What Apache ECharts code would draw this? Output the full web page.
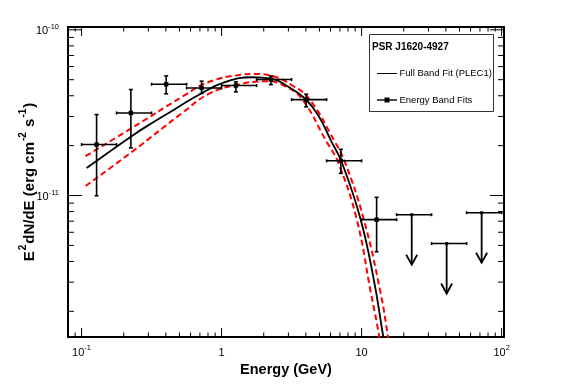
<!DOCTYPE html>
<html>
<head>
<meta charset="utf-8">
<script src="https://cdn.jsdelivr.net/npm/echarts@6/dist/echarts.min.js"></script>
<style>html,body{margin:0;padding:0;background:#fff;}#c{width:567px;height:384px;}</style>
</head>
<body>
<div id="c"></div>
<script>
// ---- Energy band fits (GeV, erg cm^-2 s^-1) ----
const energy   = [0.128, 0.225, 0.402, 0.72, 1.265, 2.25, 4.02, 7.11, 12.8];
const energyLo = [0.1, 0.1778, 0.3162, 0.5623, 1, 1.778, 3.162, 5.623, 10];
const energyHi = [0.1778, 0.3162, 0.5623, 1, 1.778, 3.162, 5.623, 10, 17.78];
const flux     = [2.03e-11, 3.15e-11, 4.69e-11, 4.46e-11, 4.61e-11, 5.01e-11, 3.79e-11, 1.62e-11, 7.15e-12];
const fluxLo   = [9.97e-12, 1.94e-11, 4.11e-11, 4.13e-11, 4.22e-11, 4.67e-11, 3.43e-11, 1.36e-11, 4.58e-12];
const fluxHi   = [3.08e-11, 4.36e-11, 5.27e-11, 4.90e-11, 4.85e-11, 5.27e-11, 4.09e-11, 1.90e-11, 9.75e-12];

// ---- Upper limits ----
const ulEnergy = [22.8, 40.5, 72];
const ulLo     = [17.78, 31.62, 56.23];
const ulHi     = [31.62, 56.23, 100];
const ulFlux   = [7.66e-12, 5.13e-12, 7.87e-12];

// ---- Full band fit (PLEC1) ----
const fitE = [0.1086, 0.2276, 0.334, 0.4638, 0.7197, 1.056, 1.638, 2.276, 2.991, 3.936, 4.898, 6.107, 7.197, 9.725, 12.11, 14.27, 15.41];
const fitF = [1.464e-11, 2.282e-11, 2.811e-11, 3.32e-11, 4.145e-11, 4.829e-11, 5.174e-11, 5.068e-11, 4.535e-11, 3.851e-11, 3.055e-11, 2.109e-11, 1.598e-11, 7.45e-12, 3.24e-12, 1.41e-12, 9.53e-13];
// upper / lower envelopes (red dashed)
const upE = [0.1068, 0.2276, 0.5318, 0.8023, 1.389, 1.729, 2.403, 3.178, 4.203, 6.446, 7.586, 10.30, 13.67, 15.41, 16.46];
const upF = [1.73e-11, 2.55e-11, 3.976e-11, 4.829e-11, 5.356e-11, 5.416e-11, 5.209e-11, 4.631e-11, 3.851e-11, 2.109e-11, 1.598e-11, 7.32e-12, 2.586e-12, 1.41e-12, 9.53e-13];
const loE = [0.1068, 0.2276, 0.5318, 0.8023, 1.245, 2.152, 2.832, 3.728, 5.623, 6.771, 9.18, 11.65, 13.36, 14.20];
const loF = [1.141e-11, 1.828e-11, 3.184e-11, 4.088e-11, 4.631e-11, 4.897e-11, 4.567e-11, 3.851e-11, 2.109e-11, 1.598e-11, 7.32e-12, 2.586e-12, 1.41e-12, 9.53e-13];

// ---- Axis ticks ----
const xMajorTicks = [0.1, 1, 10, 100];
const xMinorTicks = [0.09, 0.2, 0.3, 0.4, 0.5, 0.6, 0.7, 0.8, 0.9, 2, 3, 4, 5, 6, 7, 8, 9, 20, 30, 40, 50, 60, 70, 80, 90];
const yMajorTicks = [1e-11, 1e-10];
const yMinorTicks = [2e-12, 3e-12, 4e-12, 5e-12, 6e-12, 7e-12, 8e-12, 9e-12, 2e-11, 3e-11, 4e-11, 5e-11, 6e-11, 7e-11, 8e-11, 9e-11];

const X_MIN = 0.08, X_MAX = 104, Y_MIN = 1.4e-12, Y_MAX = 1.04e-10;
const FONT = '"Liberation Sans", Arial, Helvetica, sans-serif';

const zip = (a, b) => a.map((v, i) => [v, b[i]]);

function powLabel(v) {
  const l = Math.log10(v);
  const r = Math.round(l);
  if (Math.abs(l - r) > 0.01) return '';
  if (r === 0) return '{b|1}';
  if (r === 1) return '{b|10}';
  return '{b|10}{s|' + r + '}';
}
const labelRich = {
  b: { fontFamily: FONT, fontSize: 11, color: '#000', lineHeight: 14, verticalAlign: 'bottom' },
  s: { fontFamily: FONT, fontSize: 7.5, color: '#000', lineHeight: 14, verticalAlign: 'top', padding: [0, 0, 5, 0] }
};

const chart = echarts.init(document.getElementById('c'), null, { renderer: 'canvas' });

const errData = energy.map((e, i) => [e, flux[i], energyLo[i], energyHi[i], fluxLo[i], fluxHi[i]]);
const ulData = ulEnergy.map((e, i) => [e, ulFlux[i], ulLo[i], ulHi[i]]);
const xTickData = xMajorTicks.map(v => [v, 1e-11, 1]).concat(xMinorTicks.map(v => [v, 1e-11, 0]));
const yTickData = yMajorTicks.map(v => [1, v, 1]).concat(yMinorTicks.map(v => [1, v, 0]));

const BAR = { stroke: '#000', lineWidth: 1.6 };

chart.setOption({
  animation: false,
  backgroundColor: '#fff',
  grid: { left: 68, right: 63, top: 27, bottom: 47, show: true, borderColor: '#000', borderWidth: 2, backgroundColor: 'transparent' },
  xAxis: {
    type: 'log', logBase: 10, min: X_MIN, max: X_MAX,
    axisLine: { show: false }, axisTick: { show: false }, splitLine: { show: false },
    axisLabel: { margin: 7, formatter: powLabel, rich: labelRich, showMinLabel: false, showMaxLabel: false },
    name: 'Energy (GeV)', nameLocation: 'middle', nameGap: 25, nameMoveOverlap: false,
    nameTextStyle: { fontFamily: FONT, fontSize: 14.5, fontWeight: 'bold', color: '#000' }
  },
  yAxis: {
    type: 'log', logBase: 10, min: Y_MIN, max: Y_MAX,
    axisLine: { show: false }, axisTick: { show: false }, splitLine: { show: false },
    axisLabel: { margin: 9, formatter: powLabel, rich: labelRich, showMinLabel: false, showMaxLabel: false },
    name: '{b|E}{s|2}{b|dN/dE (erg cm}{s|-2}{b| s}{s|-1}{b|)}',
    nameLocation: 'middle', nameGap: 31, nameRotate: 90, nameMoveOverlap: false,
    nameTextStyle: {
      rich: {
        b: { fontFamily: FONT, fontSize: 15, fontWeight: 'bold', color: '#000', lineHeight: 19, verticalAlign: 'bottom' },
        s: { fontFamily: FONT, fontSize: 10, fontWeight: 'bold', color: '#000', lineHeight: 19, verticalAlign: 'top', padding: [0, 1, 6, 1] }
      }
    }
  },
  series: [
    {
      type: 'custom', name: 'xticks', data: xTickData, z: 1, silent: true,
      renderItem: function (params, api) {
        const px = api.coord([api.value(0), api.value(1)])[0];
        const r = params.coordSys;
        const len = api.value(2) ? 9 : 4.5;
        const st = { stroke: '#000', lineWidth: 1 };
        return { type: 'group', children: [
          { type: 'line', shape: { x1: px, y1: r.y + r.height, x2: px, y2: r.y + r.height - len }, style: st },
          { type: 'line', shape: { x1: px, y1: r.y, x2: px, y2: r.y + len }, style: st }
        ] };
      }
    },
    {
      type: 'custom', name: 'yticks', data: yTickData, z: 1, silent: true,
      renderItem: function (params, api) {
        const py = api.coord([api.value(0), api.value(1)])[1];
        const r = params.coordSys;
        const len = api.value(2) ? 14 : 6;
        const st = { stroke: '#000', lineWidth: 1 };
        return { type: 'group', children: [
          { type: 'line', shape: { x1: r.x, y1: py, x2: r.x + len, y2: py }, style: st },
          { type: 'line', shape: { x1: r.x + r.width, y1: py, x2: r.x + r.width - len, y2: py }, style: st }
        ] };
      }
    },
    {
      type: 'line', name: 'upper', data: zip(upE, upF), smooth: 0.45, showSymbol: false, symbol: 'none', z: 2,
      lineStyle: { color: '#ff0000', width: 2, type: [6, 3.5] }
    },
    {
      type: 'line', name: 'lower', data: zip(loE, loF), smooth: 0.45, showSymbol: false, symbol: 'none', z: 2,
      lineStyle: { color: '#ff0000', width: 2, type: [6, 3.5] }
    },
    {
      type: 'line', name: 'Full Band Fit (PLEC1)', data: zip(fitE, fitF), smooth: 0.45, showSymbol: false, symbol: 'none', z: 3,
      lineStyle: { color: '#000', width: 1.8 }
    },
    {
      type: 'custom', name: 'Energy Band Fits', data: errData, z: 4,
      renderItem: function (params, api) {
        const c = api.coord([api.value(0), api.value(1)]);
        const xl = api.coord([api.value(2), api.value(1)])[0];
        const xh = api.coord([api.value(3), api.value(1)])[0];
        const yl = api.coord([api.value(0), api.value(4)])[1];
        const yh = api.coord([api.value(0), api.value(5)])[1];
        return { type: 'group', children: [
          { type: 'line', shape: { x1: xl, y1: c[1], x2: xh, y2: c[1] }, style: BAR },
          { type: 'line', shape: { x1: xl, y1: c[1] - 1.5, x2: xl, y2: c[1] + 1.5 }, style: BAR },
          { type: 'line', shape: { x1: xh, y1: c[1] - 1.5, x2: xh, y2: c[1] + 1.5 }, style: BAR },
          { type: 'line', shape: { x1: c[0], y1: yh, x2: c[0], y2: yl }, style: BAR },
          { type: 'line', shape: { x1: c[0] - 2, y1: yh, x2: c[0] + 2, y2: yh }, style: BAR },
          { type: 'line', shape: { x1: c[0] - 2, y1: yl, x2: c[0] + 2, y2: yl }, style: BAR },
          { type: 'rect', shape: { x: c[0] - 2.2, y: c[1] - 2.2, width: 4.4, height: 4.4 }, style: { fill: '#000' } }
        ] };
      }
    },
    {
      type: 'custom', name: 'Upper limits', data: ulData, z: 4,
      renderItem: function (params, api) {
        const c = api.coord([api.value(0), api.value(1)]);
        const xl = api.coord([api.value(2), api.value(1)])[0];
        const xh = api.coord([api.value(3), api.value(1)])[0];
        const tip = c[1] + 50;
        return { type: 'group', children: [
          { type: 'line', shape: { x1: xl, y1: c[1], x2: xh, y2: c[1] }, style: BAR },
          { type: 'line', shape: { x1: xl, y1: c[1] - 1.5, x2: xl, y2: c[1] + 1.5 }, style: BAR },
          { type: 'line', shape: { x1: xh, y1: c[1] - 1.5, x2: xh, y2: c[1] + 1.5 }, style: BAR },
          { type: 'line', shape: { x1: c[0], y1: c[1], x2: c[0], y2: tip }, style: { stroke: '#000', lineWidth: 1.8 } },
          { type: 'polyline', shape: { points: [[c[0] - 5.5, tip - 10], [c[0], tip], [c[0] + 5.5, tip - 10]] }, style: { stroke: '#000', lineWidth: 1.8, fill: null } },
          { type: 'rect', shape: { x: c[0] - 1.5, y: c[1] - 1.5, width: 3, height: 3 }, style: { fill: '#000' } }
        ] };
      }
    }
  ],
  graphic: [
    { type: 'rect', shape: { x: 369.5, y: 34.5, width: 124, height: 77 }, style: { fill: '#fff', stroke: '#333', lineWidth: 1 }, z: 10 },
    { type: 'text', x: 372, y: 47, style: { text: 'PSR J1620-4927', font: 'bold 10px ' + FONT, fill: '#000', verticalAlign: 'middle' }, z: 11 },
    { type: 'line', shape: { x1: 377, y1: 73.5, x2: 397, y2: 73.5 }, style: { stroke: '#000', lineWidth: 1 }, z: 11 },
    { type: 'text', x: 399.5, y: 73.5, style: { text: 'Full Band Fit (PLEC1)', font: '9.5px ' + FONT, fill: '#000', verticalAlign: 'middle' }, z: 11 },
    { type: 'line', shape: { x1: 377, y1: 100, x2: 397, y2: 100 }, style: { stroke: '#000', lineWidth: 1.4 }, z: 11 },
    { type: 'rect', shape: { x: 384.5, y: 97.5, width: 5, height: 5 }, style: { fill: '#000' }, z: 11 },
    { type: 'text', x: 399.5, y: 100, style: { text: 'Energy Band Fits', font: '9.5px ' + FONT, fill: '#000', verticalAlign: 'middle' }, z: 11 }
  ]
});
</script>
</body>
</html>
